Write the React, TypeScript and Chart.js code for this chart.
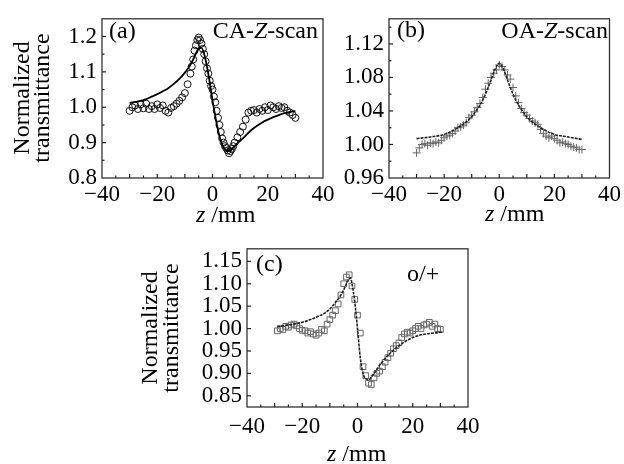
import React, { useEffect, useRef } from 'react';
import { Chart, registerables } from 'chart.js';

Chart.register(...registerables);

const FONT = "'Liberation Serif', 'Times New Roman', serif";
const MINUS = '\u2212';

// ---------- Panel (a): CA Z-scan ----------
const aZ = [
  -30, -29, -28, -27, -26, -25, -24, -23, -22, -21,
  -20, -19, -18, -17, -16, -15, -14, -13, -12, -11,
  -10, -9, -8, -7.5, -7, -6.5, -6, -5.5, -5, -4.5,
  -4, -3.5, -3, -2.5, -2, -1.5, -1, -0.5, 0, 0.5,
  1, 1.5, 2, 2.5, 3, 3.5, 4, 4.5, 5, 5.5,
  6, 6.5, 7, 7.5, 8, 9, 10, 11, 12, 13,
  14, 15, 16, 17, 18, 19, 20, 21, 22, 23,
  24, 25, 26, 27, 28, 29, 30,
];
const aCircles = [
  0.99, 1.0, 1.005, 0.995, 1.008, 0.997, 1.01, 0.995, 1.003, 0.995,
  1.008, 0.998, 1.005, 0.99, 0.985, 0.998, 1.003, 1.01, 1.018, 1.028,
  1.04, 1.065, 1.095, 1.115, 1.135, 1.16, 1.175, 1.19, 1.197, 1.19,
  1.18, 1.165, 1.15, 1.13, 1.11, 1.095, 1.075, 1.06, 1.05, 1.03,
  1.014, 0.99, 0.97, 0.95, 0.93, 0.912, 0.9, 0.89, 0.885, 0.878,
  0.87, 0.876, 0.882, 0.89, 0.9, 0.915, 0.93, 0.945, 0.965, 0.985,
  0.99, 0.992, 0.985, 0.995, 0.99, 1.0, 0.992, 1.005, 1.0, 0.995,
  1.003, 0.998, 1.0, 0.99, 0.985, 0.978, 0.97,
];
const aFitZ = [
  -30, -28, -26, -24, -22, -20, -18, -16, -14, -12,
  -10, -9, -8, -7, -6, -5, -4, -3, -2, -1,
  0, 1, 2, 3, 4, 5, 6, 7, 8, 9, 10, 11, 12,
  14, 16, 18, 20, 22, 24, 26, 28, 30,
];
const aFit = [
  1.012, 1.015, 1.018, 1.023, 1.03, 1.037, 1.045, 1.054, 1.066, 1.08,
  1.098, 1.108, 1.12, 1.135, 1.152, 1.166, 1.168, 1.15, 1.115, 1.07,
  1.02, 0.975, 0.935, 0.905, 0.887, 0.878, 0.876, 0.882, 0.89, 0.898, 0.905, 0.912, 0.92,
  0.935, 0.947, 0.957, 0.965, 0.972, 0.978, 0.983, 0.987, 0.99,
];

// ---------- Panel (b): OA Z-scan ----------
const bZ = [
  -30, -29, -28, -27, -26, -25, -24, -23, -22, -21,
  -20, -19, -18, -17, -16, -15, -14, -13, -12, -11,
  -10, -9, -8, -7, -6, -5, -4, -3, -2, -1,
  0, 1, 2, 3, 4, 5, 6, 7, 8, 9,
  10, 11, 12, 13, 14, 15, 16, 17, 18, 19,
  20, 21, 22, 23, 24, 25, 26, 27, 28, 29, 30,
];
const bCrosses = [
  0.99, 0.996, 1.0, 1.001, 0.999, 1.002, 1.001, 1.003, 1.002, 1.005,
  1.008, 1.01, 1.011, 1.013, 1.016, 1.02, 1.021, 1.023, 1.026, 1.032,
  1.035, 1.039, 1.044, 1.049, 1.056, 1.066, 1.073, 1.08, 1.085, 1.089,
  1.095, 1.093, 1.089, 1.083, 1.078, 1.068, 1.058, 1.05, 1.043, 1.038,
  1.035, 1.031, 1.028, 1.026, 1.024, 1.018, 1.013, 1.01, 1.008, 1.01,
  1.007, 1.005, 1.002, 1.003, 1.001, 1.0, 0.998, 0.997, 0.996, 0.994, 0.994,
];
const bFitZ = [-30, -25, -20, -15, -12, -10, -8, -6, -4, -3, -2, -1, 0, 1, 2, 3, 4, 6, 8, 10, 12, 15, 20, 25, 30];
const bFit = [
  1.007, 1.009, 1.012, 1.02, 1.027, 1.033, 1.042, 1.053, 1.068, 1.077, 1.086, 1.093, 1.097,
  1.093, 1.086, 1.077, 1.068, 1.053, 1.042, 1.033, 1.027, 1.02, 1.012, 1.009, 1.006,
];

// ---------- Panel (c): o/+ ----------
const cZ = [
  -29, -28, -27, -26, -25, -24, -23, -22, -21, -20,
  -19, -18, -17, -16, -15, -14, -13, -12, -11, -10,
  -9, -8, -7, -6, -5, -4, -3, -2, -1, 0,
  1, 2, 3, 4, 5, 6, 7, 8, 9, 10,
  11, 12, 13, 14, 15, 16, 17, 18, 19, 20,
  21, 22, 23, 24, 25, 26, 27, 28, 29, 30,
];
const cSquares = [
  0.995, 1.0, 0.998, 1.005, 1.003, 1.008, 1.01, 1.006, 1.0, 0.996,
  0.995, 0.99, 0.993, 0.988, 0.985, 0.99, 0.998, 0.995, 1.01, 1.02,
  1.03, 1.04, 1.055, 1.075, 1.1, 1.115, 1.12, 1.095, 1.065, 1.03,
  0.99, 0.915, 0.895, 0.878, 0.875, 0.89, 0.9, 0.905, 0.915, 0.925,
  0.935, 0.945, 0.955, 0.962, 0.968, 0.98, 0.988, 0.992, 0.99, 0.995,
  1.0, 1.005, 1.0, 1.008, 1.01, 1.014, 1.005, 1.01, 1.0, 0.998,
];
const cFitZ = [
  -29, -26, -23, -20, -17, -14, -12, -10, -8, -6, -5, -4, -3, -2.5, -2, -1, 0,
  1, 2, 3, 4, 5, 6, 8, 10, 12, 14, 16, 18, 20, 23, 26, 29, 31,
];
const cFit = [
  1.004, 1.007, 1.01, 1.014, 1.02, 1.028, 1.034, 1.044, 1.058, 1.075, 1.086, 1.1, 1.111, 1.113, 1.1, 1.06, 1.0,
  0.935, 0.9, 0.888, 0.886, 0.892, 0.9, 0.918, 0.933, 0.946, 0.957, 0.966, 0.974, 0.98, 0.986, 0.989, 0.991, 0.993,
];

// x tick labels / y tick settings
const xTickStep = 20;
const aYTicks = { min: 0.8, max: 1.25, step: 0.1, minor: 0.05, dec: 1 };
const bYTicks = { min: 0.96, max: 1.15, step: 0.04, minor: 0.02, dec: 2 };
const cYTicks = { min: 0.825, max: 1.178, step: 0.05, minor: 0.05, dec: 2 };

type Rich = { t: string; i?: boolean };
type TextItem = { parts: Rich[]; x: number; y: number; align: 'left' | 'right' };
type Spec = {
  left: number; top: number; w: number; h: number;
  area: { left: number; top: number; right: number; bottom: number };
  xPad: number;
  yT: { min: number; max: number; step: number; minor: number; dec: number };
  pts: { x: number; y: number }[];
  fit: { x: number; y: number }[];
  pointStyle: string; pointRadius: number; pointColor: string;
  lineColor: string; lineWidth: number; lineDash: number[];
  texts: TextItem[];
  yTitle?: { x1: number; x2: number; y: number };
  xTitle: { x: number; y: number };
};

const zip = (xs: number[], ys: number[]) => xs.map((x, i) => ({ x, y: ys[i] }));

const fmt = (d: number) => (v: any) => {
  const s = Number(v).toFixed(d);
  return s.startsWith('-') ? MINUS + s.slice(1) : s;
};

function drawRich(ctx: CanvasRenderingContext2D, parts: Rich[], x: number, y: number, align: 'left' | 'right', size: number) {
  const fontOf = (p: Rich) => `${p.i ? 'italic ' : ''}${size}px ${FONT}`;
  let total = 0;
  for (const p of parts) { ctx.font = fontOf(p); total += ctx.measureText(p.t).width; }
  let cx = align === 'left' ? x : x - total;
  ctx.textAlign = 'left';
  ctx.textBaseline = 'alphabetic';
  for (const p of parts) {
    ctx.font = fontOf(p);
    ctx.fillText(p.t, cx, y);
    cx += ctx.measureText(p.t).width;
  }
}

function decoPlugin(spec: Spec) {
  return {
    id: 'deco',
    afterDraw(chart: any) {
      const { ctx, chartArea: ca, scales } = chart;
      const xs = scales.x, ys = scales.y;
      ctx.save();
      ctx.fillStyle = '#000';
      ctx.strokeStyle = '#333';
      ctx.lineWidth = 1.3;
      ctx.strokeRect(ca.left, ca.top, ca.right - ca.left, ca.bottom - ca.top);
      ctx.lineWidth = 1.2;
      ctx.strokeStyle = '#222';
      // inner x ticks
      for (let k = -8; k <= 8; k++) {
        const v = k * 5;
        const px = xs.getPixelForValue(v);
        if (px <= ca.left + 1 || px >= ca.right - 1) continue;
        const len = v % 10 === 0 ? 4 : 2.5;
        ctx.beginPath(); ctx.moveTo(px, ca.bottom); ctx.lineTo(px, ca.bottom - len); ctx.stroke();
      }
      // inner y ticks
      const { min, max, minor, step } = spec.yT;
      const start = Math.ceil(min / minor - 1e-6);
      for (let k = start; k * minor <= max + 1e-9; k++) {
        const v = k * minor;
        const py = ys.getPixelForValue(v);
        if (py >= ca.bottom - 1 || py <= ca.top + 1) continue;
        const ratio = v / step;
        const major = Math.abs(ratio - Math.round(ratio)) < 1e-6;
        const len = major ? 4 : 2.5;
        ctx.beginPath(); ctx.moveTo(ca.left, py); ctx.lineTo(ca.left + len, py); ctx.stroke();
      }
      // annotation texts
      for (const t of spec.texts) drawRich(ctx, t.parts, t.x, t.y, t.align, 24);
      // x title
      drawRich(ctx, [{ t: 'z', i: true }, { t: ' /mm' }], spec.xTitle.x, spec.xTitle.y, 'left', 24);
      // y title
      if (spec.yTitle) {
        const yt = spec.yTitle;
        ctx.font = `24px ${FONT}`;
        ctx.textAlign = 'center';
        ctx.textBaseline = 'middle';
        ctx.save(); ctx.translate(yt.x1, yt.y); ctx.rotate(-Math.PI / 2); ctx.fillText('Normalized', 0, 0); ctx.restore();
        ctx.save(); ctx.translate(yt.x2, yt.y); ctx.rotate(-Math.PI / 2); ctx.fillText('transmittance', 0, 0); ctx.restore();
      }
      ctx.restore();
    },
  };
}

function buildConfig(spec: Spec): any {
  const a = spec.area;
  return {
    type: 'scatter',
    data: {
      datasets: [
        {
          data: spec.fit, showLine: true, borderColor: spec.lineColor, borderWidth: spec.lineWidth,
          borderDash: spec.lineDash, pointRadius: 0, cubicInterpolationMode: 'monotone', fill: false, order: 0,
        },
        {
          data: spec.pts, showLine: false, pointStyle: spec.pointStyle, pointRadius: spec.pointRadius,
          borderColor: spec.pointColor, backgroundColor: 'rgba(0,0,0,0)', borderWidth: 1, order: 1,
        },
      ],
    },
    options: {
      responsive: false, animation: false, devicePixelRatio: 1,
      layout: { padding: { left: 0, top: a.top, right: spec.w - a.right, bottom: 0 } },
      plugins: { legend: { display: false }, tooltip: { enabled: false }, title: { display: false } },
      scales: {
        x: {
          type: 'linear', min: -40, max: 40,
          grid: { display: false, drawTicks: false }, border: { display: false },
          ticks: {
            stepSize: xTickStep, autoSkip: false, maxRotation: 0, minRotation: 0, padding: spec.xPad,
            color: '#000', font: { family: FONT, size: 23 }, callback: fmt(0),
          },
          afterFit: (s: any) => { s.height = spec.h - a.bottom; },
        },
        y: {
          type: 'linear', min: spec.yT.min, max: spec.yT.max,
          grid: { display: false, drawTicks: false }, border: { display: false },
          ticks: {
            stepSize: spec.yT.step, includeBounds: false, autoSkip: false, padding: 5,
            color: '#000', font: { family: FONT, size: 23 }, callback: fmt(spec.yT.dec),
          },
          afterFit: (s: any) => { s.width = a.left; },
        },
      },
    },
    plugins: [decoPlugin(spec)],
  };
}

function Panel({ spec }: { spec: Spec }) {
  const ref = useRef<HTMLCanvasElement>(null);
  useEffect(() => {
    const chart = new Chart(ref.current as HTMLCanvasElement, buildConfig(spec));
    return () => chart.destroy();
  }, []);
  return (
    <div style={{ position: 'absolute', left: spec.left, top: spec.top, width: spec.w, height: spec.h }}>
      <canvas ref={ref} width={spec.w} height={spec.h} style={{ width: spec.w, height: spec.h, display: 'block' }} />
    </div>
  );
}

const specA: Spec = {
  left: 0, top: 0, w: 340, h: 230,
  area: { left: 102, top: 14, right: 323, bottom: 178 },
  xPad: 3,
  yT: aYTicks,
  pts: zip(aZ, aCircles), fit: zip(aFitZ, aFit),
  pointStyle: 'circle', pointRadius: 3.5, pointColor: '#111',
  lineColor: '#000', lineWidth: 1.8, lineDash: [],
  texts: [
    { parts: [{ t: '(a)' }], x: 109, y: 38, align: 'left' },
    { parts: [{ t: 'CA-' }, { t: 'Z', i: true }, { t: '-scan' }], x: 318, y: 38, align: 'right' },
  ],
  yTitle: { x1: 23, x2: 43, y: 98 },
  xTitle: { x: 196, y: 222 },
};

const specB: Spec = {
  left: 340, top: 0, w: 284, h: 230,
  area: { left: 49, top: 14, right: 273, bottom: 178 },
  xPad: 3,
  yT: bYTicks,
  pts: zip(bZ, bCrosses), fit: zip(bFitZ, bFit),
  pointStyle: 'cross', pointRadius: 4, pointColor: '#666',
  lineColor: '#222', lineWidth: 1.6, lineDash: [3, 1],
  texts: [
    { parts: [{ t: '(b)' }], x: 397 - 340, y: 37, align: 'left' },
    { parts: [{ t: 'OA-' }, { t: 'Z', i: true }, { t: '-scan' }], x: 608 - 340, y: 38, align: 'right' },
  ],
  xTitle: { x: 485 - 340, y: 221 },
};

const specC: Spec = {
  left: 130, top: 230, w: 360, h: 234,
  area: { left: 117, top: 13, right: 338, bottom: 177 },
  xPad: 6,
  yT: cYTicks,
  pts: zip(cZ, cSquares), fit: zip(cFitZ, cFit),
  pointStyle: 'rect', pointRadius: 4, pointColor: '#666',
  lineColor: '#222', lineWidth: 1.6, lineDash: [3, 1],
  texts: [
    { parts: [{ t: '(c)' }], x: 256 - 130, y: 271 - 230, align: 'left' },
    { parts: [{ t: 'o/+' }], x: 407 - 130, y: 281 - 230, align: 'left' },
  ],
  yTitle: { x1: 151 - 130, x2: 172 - 130, y: 328 - 230 },
  xTitle: { x: 327 - 130, y: 461 - 230 },
};

export default function App() {
  return (
    <div style={{ position: 'fixed', left: 0, top: 0, width: 624, height: 464, background: '#fff', overflow: 'hidden' }}>
      <Panel spec={specA} />
      <Panel spec={specB} />
      <Panel spec={specC} />
    </div>
  );
}
